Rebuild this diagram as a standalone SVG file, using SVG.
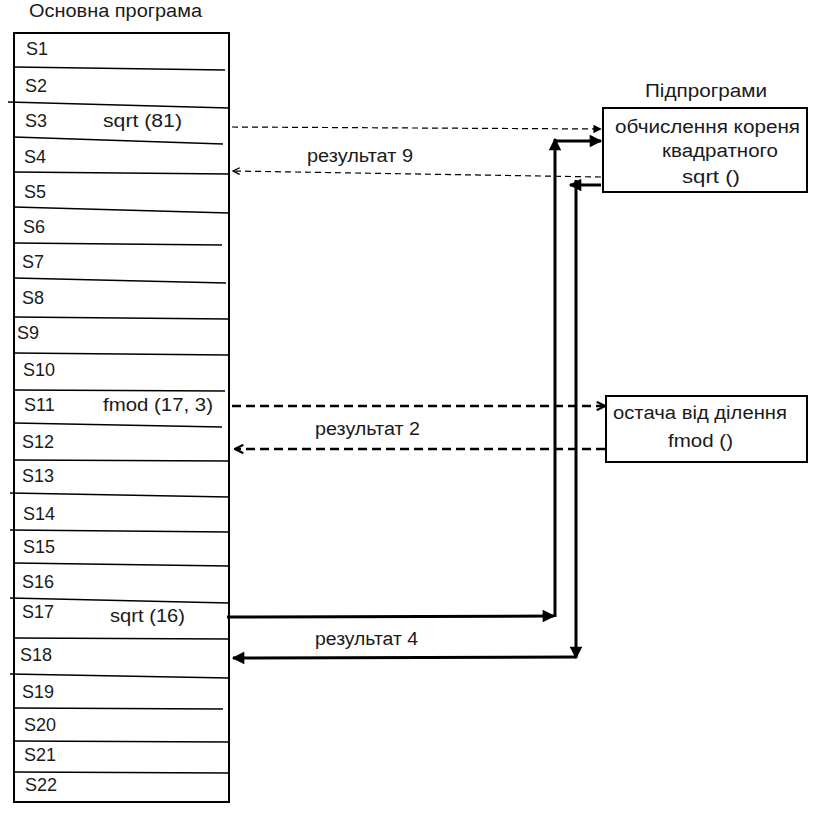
<svg xmlns="http://www.w3.org/2000/svg" width="815" height="814" viewBox="0 0 815 814">
<style>
text{font-family:"Liberation Sans",Arial,sans-serif;font-size:18px;fill:#1a1a1a}
.box{fill:#fff;stroke:#000;stroke-width:2}
.row{stroke:#000;stroke-width:1.6}
.thin{stroke:#000;stroke-width:1.2;stroke-dasharray:6 4;fill:none}
.dash{stroke:#000;stroke-width:2.6;stroke-dasharray:9 5;fill:none}
.solid{stroke:#000;stroke-width:3;fill:none}
</style>
<defs>
<marker id="tri" viewBox="0 0 10 10" refX="9" refY="5" markerWidth="8" markerHeight="7" markerUnits="strokeWidth" orient="auto"><path d="M0,0 L10,5 L0,10 z" fill="#000"/></marker>
<marker id="triS" viewBox="0 0 10 10" refX="9" refY="5" markerWidth="5" markerHeight="4.2" markerUnits="strokeWidth" orient="auto"><path d="M0,0 L10,5 L0,10 z" fill="#000"/></marker>
<marker id="chev" viewBox="0 0 10 10" refX="9" refY="5" markerWidth="4" markerHeight="4" markerUnits="strokeWidth" orient="auto"><path d="M1,1 L9,5 L1,9" fill="none" stroke="#000" stroke-width="2.2" stroke-dasharray="none"/></marker>
<marker id="chevT" viewBox="0 0 10 10" refX="9" refY="5" markerWidth="7" markerHeight="7" markerUnits="strokeWidth" orient="auto"><path d="M1,1 L9,5 L1,9" fill="none" stroke="#000" stroke-width="1.6" stroke-dasharray="none"/></marker>
</defs>

<text x="29" y="17" textLength="173" lengthAdjust="spacingAndGlyphs">Основна програма</text>

<g id="main">
<rect class="box" x="14" y="33" width="215" height="769"/>
<line class="row" x1="14" y1="67" x2="225" y2="70"/>
<line class="row" x1="8" y1="102" x2="229" y2="108"/>
<line class="row" x1="14" y1="137" x2="223" y2="144"/>
<line class="row" x1="14" y1="172" x2="229" y2="174"/>
<line class="row" x1="14" y1="207" x2="229" y2="213"/>
<line class="row" x1="14" y1="243" x2="222" y2="245"/>
<line class="row" x1="14" y1="278" x2="226" y2="283"/>
<line class="row" x1="14" y1="317" x2="229" y2="319"/>
<line class="row" x1="14" y1="353" x2="229" y2="355"/>
<line class="row" x1="14" y1="390" x2="225" y2="391"/>
<line class="row" x1="14" y1="423" x2="222" y2="427"/>
<line class="row" x1="14" y1="460" x2="229" y2="461"/>
<line class="row" x1="10" y1="493" x2="229" y2="497"/>
<line class="row" x1="10" y1="530" x2="229" y2="532"/>
<line class="row" x1="14" y1="563" x2="229" y2="566"/>
<line class="row" x1="10" y1="598" x2="229" y2="603"/>
<line class="row" x1="14" y1="638" x2="229" y2="639"/>
<line class="row" x1="10" y1="674" x2="229" y2="678"/>
<line class="row" x1="14" y1="708" x2="223" y2="709"/>
<line class="row" x1="14" y1="741" x2="229" y2="742"/>
<line class="row" x1="14" y1="772" x2="229" y2="773"/>
<text x="26" y="55">S1</text>
<text x="25" y="92">S2</text>
<text x="25" y="127">S3</text>
<text x="24" y="163">S4</text>
<text x="24" y="198">S5</text>
<text x="23" y="233">S6</text>
<text x="22" y="268">S7</text>
<text x="22" y="304">S8</text>
<text x="17" y="339">S9</text>
<text x="23" y="376">S10</text>
<text x="24" y="411">S11</text>
<text x="22" y="448">S12</text>
<text x="22" y="482">S13</text>
<text x="23" y="520">S14</text>
<text x="23" y="553">S15</text>
<text x="22" y="588">S16</text>
<text x="22" y="618">S17</text>
<text x="20" y="661">S18</text>
<text x="22" y="698">S19</text>
<text x="24" y="731">S20</text>
<text x="24" y="761">S21</text>
<text x="25" y="791">S22</text>
<text x="103" y="127" textLength="79" lengthAdjust="spacingAndGlyphs">sqrt (81)</text>
<text x="103" y="411" textLength="110" lengthAdjust="spacingAndGlyphs">fmod (17, 3)</text>
<text x="110" y="622" textLength="75" lengthAdjust="spacingAndGlyphs">sqrt (16)</text>
</g>

<text x="645" y="97" textLength="122" lengthAdjust="spacingAndGlyphs">Підпрограми</text>

<g id="sqrt">
<rect class="box" x="603" y="108" width="204" height="84"/>
<text x="615" y="133" textLength="185" lengthAdjust="spacingAndGlyphs">обчислення кореня</text>
<text x="662" y="157" textLength="116" lengthAdjust="spacingAndGlyphs">квадратного</text>
<text x="682" y="183" textLength="58" lengthAdjust="spacingAndGlyphs">sqrt  ()</text>
</g>

<g id="fmod">
<rect class="box" x="606" y="396" width="201" height="66"/>
<text x="613" y="419" textLength="174" lengthAdjust="spacingAndGlyphs">остача від ділення</text>
<text x="668" y="447" textLength="65" lengthAdjust="spacingAndGlyphs">fmod ()</text>
</g>

<g id="connectors">
<line class="thin" x1="232" y1="127" x2="601" y2="129" marker-end="url(#tri)"/>
<line class="thin" x1="601" y1="177" x2="233" y2="171" marker-end="url(#chevT)"/>
<text x="307" y="162" textLength="106" lengthAdjust="spacingAndGlyphs">результат 9</text>

<line class="dash" x1="232" y1="406" x2="605" y2="406" marker-end="url(#chev)"/>
<line class="dash" x1="605" y1="449" x2="235" y2="449" marker-end="url(#chev)"/>
<text x="315" y="435" textLength="105" lengthAdjust="spacingAndGlyphs">результат 2</text>

<line class="solid" x1="227" y1="617" x2="554" y2="616" marker-end="url(#triS)"/>
<line class="solid" x1="555" y1="617" x2="555" y2="139" marker-end="url(#triS)"/>
<line class="solid" x1="555" y1="141" x2="601" y2="141" marker-end="url(#triS)"/>

<line class="solid" x1="601" y1="185" x2="570" y2="185" marker-end="url(#triS)"/>
<line class="solid" x1="576" y1="180" x2="576" y2="658" marker-end="url(#triS)"/>
<line class="solid" x1="576" y1="657" x2="233" y2="658" marker-end="url(#triS)"/>
<text x="315" y="645" textLength="103" lengthAdjust="spacingAndGlyphs">результат 4</text>
</g>
</svg>
